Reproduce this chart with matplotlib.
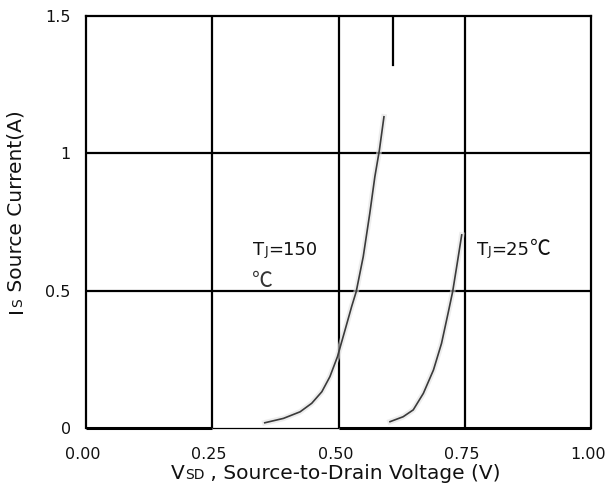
import matplotlib
matplotlib.use("Agg")
import matplotlib.pyplot as plt
from matplotlib.transforms import offset_copy, ScaledTranslation

plt.rcParams['font.family'] = ['DejaVu Sans', 'Noto Sans CJK SC']

# curve readings (V, A)
v_150 = [0.354, 0.391, 0.424, 0.447, 0.467, 0.483, 0.498, 0.513, 0.526, 0.535, 0.549, 0.562, 0.572, 0.581, 0.590]
i_150 = [0.019, 0.035, 0.059, 0.090, 0.132, 0.187, 0.260, 0.357, 0.442, 0.496, 0.624, 0.782, 0.915, 1.012, 1.133]
v_25 = [0.602, 0.628, 0.648, 0.668, 0.688, 0.704, 0.717, 0.726, 0.734, 0.744]
i_25 = [0.023, 0.041, 0.066, 0.126, 0.211, 0.308, 0.418, 0.496, 0.587, 0.703]
x_ticks = [0.0, 0.25, 0.5, 0.75, 1.0]
x_labels = ['0.00', '0.25', '0.50', '0.75', '1.00']
y_ticks = [0, 0.5, 1, 1.5]
y_labels = ['0', '0.5', '1', '1.5']
marker_v = 0.607
marker_top = 1.5
marker_bottom = 1.32

CJK = ['Noto Sans CJK SC', 'DejaVu Sans']


def mixed_text(ax, x, y, pieces, transform, rotation=0, **kw):
    # pieces: (string, fontsize) or (string, fontsize, family), laid out on one baseline
    fig = ax.figure
    renderer = fig.canvas.get_renderer()
    dx = 0.0
    for p in pieces:
        s, fs = p[0], p[1]
        extra = dict(kw)
        if len(p) > 2:
            extra['family'] = p[2]
        if rotation == 0:
            tr = offset_copy(transform, fig=fig, x=dx, y=0, units='dots')
        else:
            tr = offset_copy(transform, fig=fig, x=0, y=dx, units='dots')
        t = ax.text(x, y, s, fontsize=fs, transform=tr, rotation=rotation,
                    ha='left', va='baseline', rotation_mode='anchor',
                    clip_on=False, **extra)
        bb = t.get_window_extent(renderer)
        dx += bb.width if rotation == 0 else bb.height


fig = plt.figure(figsize=(6.07, 4.93), dpi=100)
ax = fig.add_axes([86 / 607, 1 - 428 / 493, 505 / 607, 412 / 493])

ax.set_xlim(0, 1)
ax.set_ylim(0, 1.5)
ax.set_xticks(x_ticks)
ax.set_xticklabels(x_labels)
ax.set_yticks(y_ticks)
ax.set_yticklabels(y_labels)
ax.tick_params(length=0, labelsize=11.5, colors='#111111')
ax.tick_params(axis='x', pad=14)
ax.tick_params(axis='y', pad=11)
# x labels sit a few pixels left of their gridlines in the original
shift = ScaledTranslation(-3 / 100, 0, fig.dpi_scale_trans)
for lab in ax.get_xticklabels():
    lab.set_transform(lab.get_transform() + shift)

for s in ['left', 'right', 'top']:
    ax.spines[s].set_linewidth(1.6)
ax.spines['bottom'].set_visible(False)

# grid
for v in x_ticks[1:-1]:
    ax.axvline(v, color='black', lw=1.6, zorder=1)
for i in y_ticks[1:-1]:
    ax.axhline(i, color='black', lw=1.6, zorder=1)

# bottom edge, thinner between 0.25 and 0.5
ax.plot([0, 0.25], [0, 0], color='black', lw=2.2, clip_on=False, solid_capstyle='butt')
ax.plot([0.25, 0.5], [0, 0], color='black', lw=0.9, clip_on=False, solid_capstyle='butt')
ax.plot([0.5, 1.0], [0, 0], color='black', lw=2.2, clip_on=False, solid_capstyle='butt')

ax.plot([marker_v, marker_v], [marker_bottom, marker_top], color='black', lw=1.6)

# curves with faint halo like the scan
ax.plot(v_150, i_150, color='#e2e2e2', lw=4, alpha=0.6, zorder=2)
ax.plot(v_25, i_25, color='#e2e2e2', lw=4, alpha=0.6, zorder=2)
ax.plot(v_150, i_150, color='#3a3a3a', lw=1.2, zorder=3)
ax.plot(v_25, i_25, color='#3a3a3a', lw=1.2, zorder=3)

fig.canvas.draw()
mixed_text(ax, 0.331, 0.63, [('T', 13), ('J', 9), ('=150', 13)], ax.transData, color='#111111')
ax.text(0.329, 0.515, '℃', fontsize=15, family=CJK, color='#333333', ha='left', va='baseline')
mixed_text(ax, 0.774, 0.63, [('T', 13), ('J', 9), ('=25', 13), ('℃', 15, CJK)],
           ax.transData, color='#111111')

# axis titles
mixed_text(ax, 171 / 607, 1 - 479 / 493, [('V', 14.5), ('SD', 10), (' , Source-to-Drain Voltage (V)', 14.5)],
           fig.transFigure, color='#111111')
mixed_text(ax, 22 / 607, 1 - 313 / 493, [('I', 14.5), ('S', 10), (' Source Current(A)', 14.5)],
           fig.transFigure, rotation=90, color='#111111')

fig.savefig('out.png', dpi=100)
